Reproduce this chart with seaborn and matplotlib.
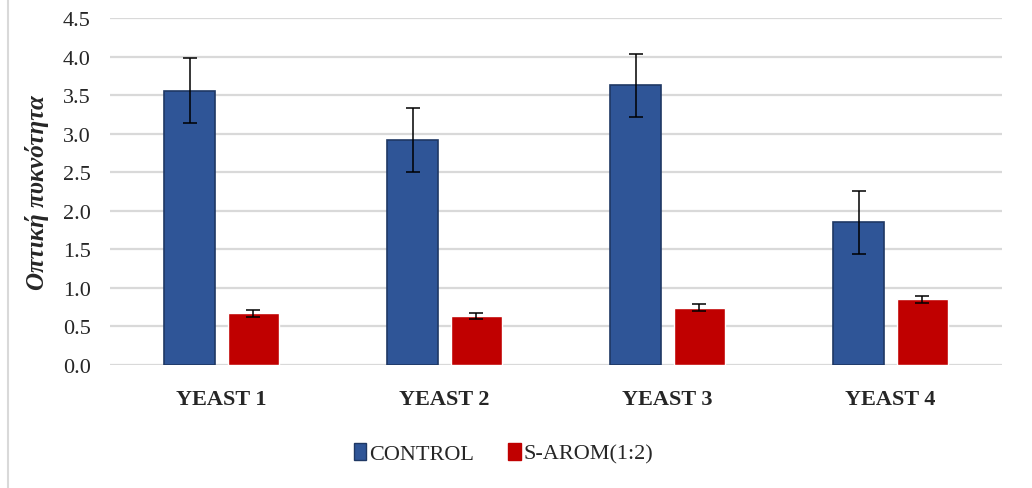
import matplotlib.pyplot as plt
import matplotlib.lines as mlines
import pandas as pd
import seaborn as sns

categories = ["YEAST 1", "YEAST 2", "YEAST 3", "YEAST 4"]
series = ["CONTROL", "S-AROM(1:2)"]
control = [3.56, 2.92, 3.63, 1.85]
control_err = [0.42, 0.42, 0.41, 0.41]
sarom = [0.67, 0.64, 0.74, 0.85]
sarom_err = [0.045, 0.04, 0.045, 0.04]

df = pd.DataFrame({
    "yeast": categories * 2,
    "group": [series[0]] * 4 + [series[1]] * 4,
    "od": control + sarom,
})

sns.set_style("white")
plt.rcParams["font.family"] = ["Liberation Serif", "DejaVu Serif"]

fig = plt.figure(figsize=(10.32, 4.89), dpi=100)
ax = fig.add_axes([0.1066, 0.2515, 0.8645, 0.7095])

colors = {"CONTROL": "#2F5597", "S-AROM(1:2)": "#C00000"}
sns.barplot(data=df, x="yeast", y="od", hue="group", order=categories,
            hue_order=series, palette=colors, width=0.57, gap=0.2,
            saturation=1, errorbar=None, legend=False, ax=ax, zorder=3)

# error bars on top of the bars
for cont, vals, errs in zip(ax.containers, [control, sarom], [control_err, sarom_err]):
    xs = [p.get_x() + p.get_width() / 2 for p in cont.patches]
    ax.errorbar(xs, vals, yerr=errs, fmt="none", ecolor="black",
                elinewidth=1.1, capsize=5, capthick=1.1, zorder=4)

for p in ax.containers[0].patches:
    p.set_edgecolor("#1F3864")
    p.set_linewidth(1.2)

ax.set_ylim(0, 4.5)
ax.set_xlim(-0.5, 3.5)
ax.set_yticks([i * 0.5 for i in range(10)])
ax.set_yticklabels([f"{i * 0.5:.1f}" for i in range(10)], fontsize=16)
ax.set_xticks(range(4))
ax.set_xticklabels(categories, fontsize=16, fontweight="bold")
ax.tick_params(axis="y", length=0, pad=14)
ax.tick_params(axis="x", length=0, pad=17)
ax.yaxis.grid(True, color="#d9d9d9", linewidth=1.6, zorder=0)
ax.set_axisbelow(True)
for s in ax.spines.values():
    s.set_visible(False)
ax.set_xlabel("")
ax.set_ylabel("Οπτική πυκνότητα", fontsize=18, fontweight="bold",
              fontstyle="italic", labelpad=10)

handles = [plt.Rectangle((0, 0), 1, 1, facecolor=colors[s],
                         edgecolor="#1F3864" if s == "CONTROL" else colors[s])
           for s in series]
fig.legend(handles, series, loc="center", bbox_to_anchor=(0.488, 0.071),
           ncol=2, frameon=False, fontsize=16, handlelength=0.55,
           handleheight=0.8, handletextpad=0.15, columnspacing=1.55)

fig.add_artist(mlines.Line2D([8 / 1032, 8 / 1032], [0, 1], color="#d9d9d9",
                             linewidth=1.5, transform=fig.transFigure))

fig.savefig("out.png", dpi=100)
